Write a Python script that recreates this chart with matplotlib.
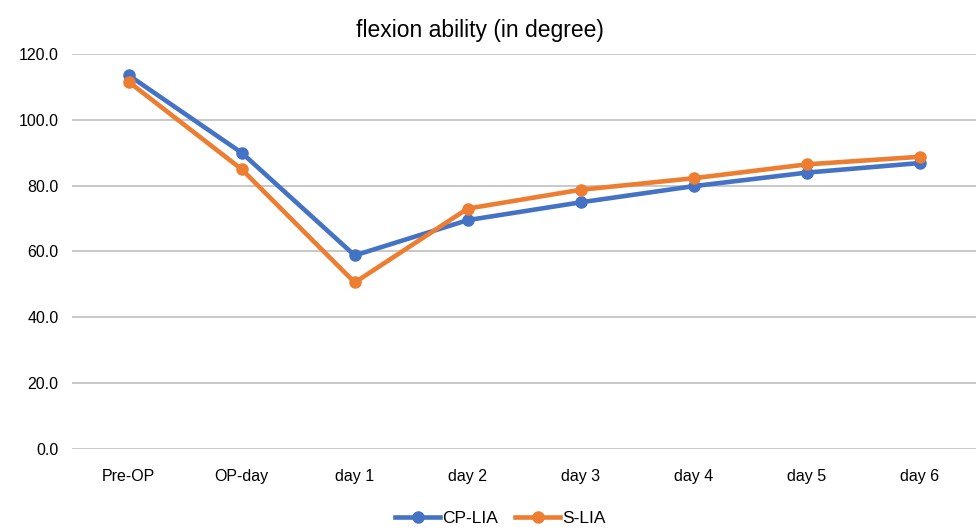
import matplotlib
matplotlib.use("Agg")
import matplotlib.pyplot as plt

categories = ["Pre-OP", "OP-day", "day 1", "day 2", "day 3", "day 4", "day 5", "day 6"]
cp_lia = [113.4, 89.9, 58.8, 69.5, 74.9, 79.8, 83.9, 86.8]
s_lia = [111.4, 84.9, 50.6, 73.0, 78.7, 82.2, 86.4, 88.7]
y_ticks = [0, 20, 40, 60, 80, 100, 120]

plt.rcParams["font.family"] = ["Liberation Sans", "DejaVu Sans"]

fig = plt.figure(figsize=(9.77, 5.30), dpi=100)
ax = fig.add_axes([0.074, 0.152, 0.925, 0.747])

x = range(len(categories))
ax.plot(x, cp_lia, color="#4472C4", lw=3.3, marker="o", ms=8, label="CP-LIA", zorder=3)
ax.plot(x, s_lia, color="#ED7D31", lw=3.3, marker="o", ms=8, label="S-LIA", zorder=4)

ax.set_xlim(-0.5, len(categories) - 0.5)
ax.set_ylim(0, 120)
ax.set_yticks(y_ticks)
ax.set_yticklabels([f"{v:.1f}" for v in y_ticks], fontsize=11.5, color="#000000")
ax.set_xticks(list(x))
ax.set_xticklabels(categories, fontsize=11.5)
ax.tick_params(length=0, pad=10)
ax.tick_params(axis="x", pad=14)
ax.grid(axis="y", color="#BFBFBF", lw=1.2)
ax.set_axisbelow(True)
for s in ax.spines.values():
    s.set_visible(False)

fig.suptitle("flexion ability (in degree)", x=0.491, y=0.965, fontsize=16.5)
fig.legend(loc="lower center", bbox_to_anchor=(0.512, -0.022), ncol=2, frameon=False,
           fontsize=12.5, handlelength=2.6, columnspacing=1.0, handletextpad=0.1)

fig.savefig("out.png", dpi=100)
